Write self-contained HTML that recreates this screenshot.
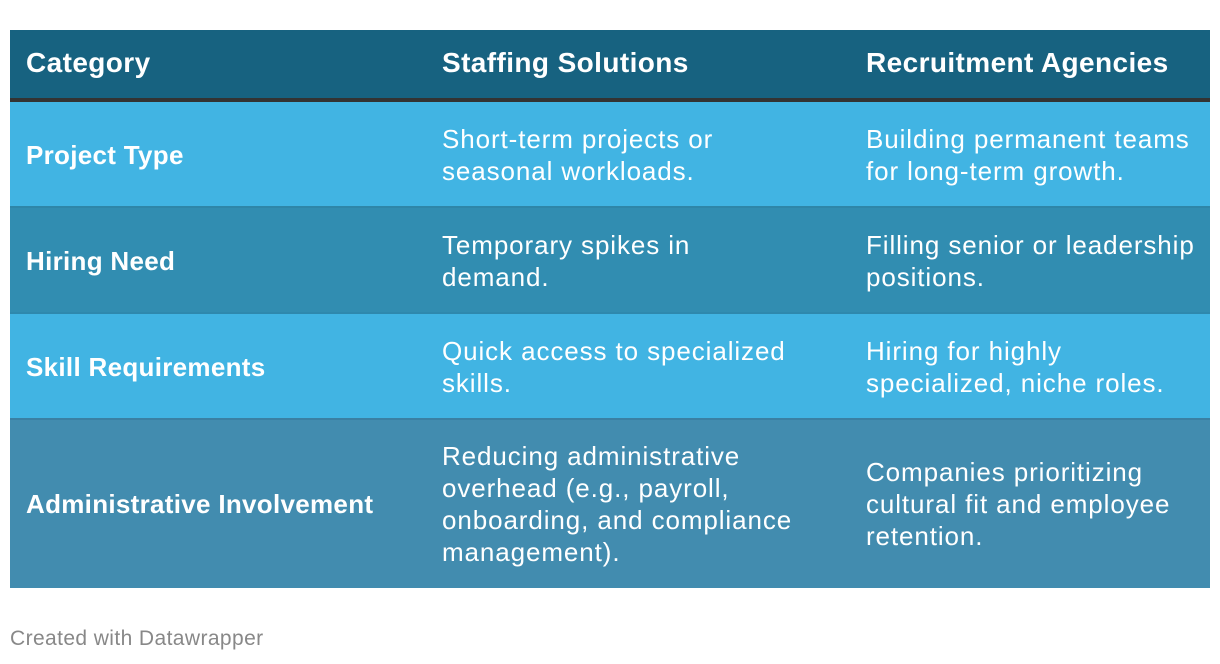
<!DOCTYPE html>
<html><head><style>
body{margin:0;width:1220px;height:664px;background:#fff;font-family:"Liberation Sans",Arial,sans-serif;position:relative;overflow:hidden}
.r{position:absolute;left:10px;width:1200px}
.t{position:absolute;color:#fff;font-size:26px;line-height:32px;white-space:nowrap;letter-spacing:0.9px}
.b{font-weight:bold;letter-spacing:0.3px}
.h{font-size:28px;letter-spacing:0.4px}
</style></head><body>
<div class="r" style="top:30px;height:68px;background:#176280"></div>
<div class="r" style="top:98px;height:4px;background:#333"></div>
<div class="r" style="top:102px;height:104px;background:#41b4e3"></div>
<div class="r" style="top:206px;height:2px;background:#2e86a8"></div>
<div class="r" style="top:208px;height:104px;background:#318db1"></div>
<div class="r" style="top:312px;height:2px;background:#2e88ad"></div>
<div class="r" style="top:314px;height:104px;background:#41b4e3"></div>
<div class="r" style="top:418px;height:2px;background:#3a80a3"></div>
<div class="r" style="top:420px;height:168px;background:#428caf"></div>

<div class="t b h" style="left:26px;top:47px">Category</div>
<div class="t b h" style="left:442px;top:47px">Staffing Solutions</div>
<div class="t b h" style="left:866px;top:47px">Recruitment Agencies</div>

<div class="t b" style="left:26px;top:139px">Project Type</div>
<div class="t" style="left:442px;top:123px">Short-term projects or<br>seasonal workloads.</div>
<div class="t" style="left:866px;top:123px">Building permanent teams<br>for long-term growth.</div>

<div class="t b" style="left:26px;top:245px">Hiring Need</div>
<div class="t" style="left:442px;top:229px">Temporary spikes in<br>demand.</div>
<div class="t" style="left:866px;top:229px">Filling senior or leadership<br>positions.</div>

<div class="t b" style="left:26px;top:351px">Skill Requirements</div>
<div class="t" style="left:442px;top:335px">Quick access to specialized<br>skills.</div>
<div class="t" style="left:866px;top:335px">Hiring for highly<br>specialized, niche roles.</div>

<div class="t b" style="left:26px;top:488px">Administrative Involvement</div>
<div class="t" style="left:442px;top:440px">Reducing administrative<br>overhead (e.g., payroll,<br>onboarding, and compliance<br>management).</div>
<div class="t" style="left:866px;top:456px">Companies prioritizing<br>cultural fit and employee<br>retention.</div>

<div style="position:absolute;left:10px;top:627px;font-size:21px;letter-spacing:0.4px;color:#888">Created with Datawrapper</div>
</body></html>
